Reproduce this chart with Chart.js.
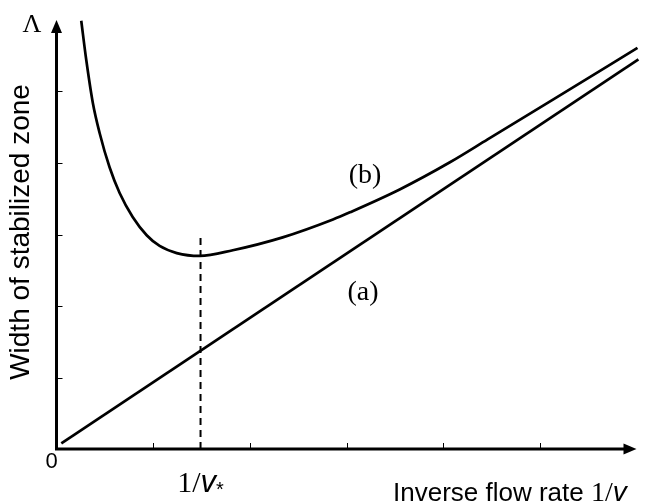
<!DOCTYPE html>
<html>
<head>
<meta charset="utf-8">
<script src="https://cdn.jsdelivr.net/npm/chart.js@4"></script>
<style>
  html, body { margin: 0; padding: 0; background: #fff; }
  #wrap { width: 648px; height: 502px; position: relative; }
</style>
</head>
<body>
<div id="wrap"><canvas id="chart"></canvas></div>
<script>
// 直线 (a)
const lineAX = [0.05, 6.02];
const lineAY = [0.08, 5.45];

// 曲线 (b)
const curveBX = [0.256, 0.308, 0.376, 0.446, 0.549, 0.653, 0.788, 0.933, 1.067, 1.244, 1.482, 1.824, 2.34, 2.86, 3.035, 3.55, 4.07, 4.46, 5.14, 6.01];
const curveBY = [5.99, 5.44, 4.84, 4.42, 3.94, 3.58, 3.245, 2.99, 2.84, 2.74, 2.70, 2.78, 2.96, 3.21, 3.31, 3.63, 4.01, 4.33, 4.89, 5.61];

// 1/v* 处的虚线
const vStarX = [1.49, 1.49];
const vStarY = [0, 2.98];

// 坐标轴刻度
const xTicks = [1, 2, 3, 4, 5];
const yTicks = [1, 2, 3, 4, 5];
const axisMax = 6;

const toPoints = (xs, ys) => xs.map((x, i) => ({ x: x, y: ys[i] }));

const SERIF = '"Liberation Serif", "Times New Roman", serif';
const SANS = '"Liberation Sans", Arial, sans-serif';

// 按顺序绘制不同字体的文字片段
function drawRuns(ctx, x, y, runs) {
  runs.forEach(r => {
    ctx.font = r.font;
    ctx.fillText(r.text, x, y + (r.dy || 0));
    x += ctx.measureText(r.text).width;
  });
}

function runsWidth(ctx, runs) {
  let w = 0;
  runs.forEach(r => { ctx.font = r.font; w += ctx.measureText(r.text).width; });
  return w;
}

// 坐标轴、箭头、刻度与文字
const axesPlugin = {
  id: 'axesPlugin',
  beforeDatasetsDraw(chart) {
    const ctx = chart.ctx;
    const xs = chart.scales.x;
    const ys = chart.scales.y;
    const x0 = xs.getPixelForValue(0);
    const y0 = ys.getPixelForValue(0);
    const xEnd = xs.getPixelForValue(axisMax);
    const yEnd = ys.getPixelForValue(axisMax);

    ctx.save();
    ctx.strokeStyle = '#000';
    ctx.fillStyle = '#000';
    ctx.lineWidth = 3;
    ctx.beginPath();
    ctx.moveTo(x0, y0);
    ctx.lineTo(x0, yEnd + 10);
    ctx.moveTo(x0 - 1.5, y0);
    ctx.lineTo(xEnd - 10, y0);
    ctx.stroke();

    // 箭头
    ctx.beginPath();
    ctx.moveTo(x0, yEnd);
    ctx.lineTo(x0 - 5.5, yEnd + 13);
    ctx.lineTo(x0 + 5.5, yEnd + 13);
    ctx.closePath();
    ctx.fill();
    ctx.beginPath();
    ctx.moveTo(xEnd, y0);
    ctx.lineTo(xEnd - 13, y0 - 5.5);
    ctx.lineTo(xEnd - 13, y0 + 5.5);
    ctx.closePath();
    ctx.fill();

    // 刻度
    ctx.lineWidth = 1;
    ctx.beginPath();
    xTicks.forEach(t => {
      const px = Math.round(xs.getPixelForValue(t)) + 0.5;
      ctx.moveTo(px, y0);
      ctx.lineTo(px, y0 - 6);
    });
    yTicks.forEach(t => {
      const py = Math.round(ys.getPixelForValue(t)) + 0.5;
      ctx.moveTo(x0, py);
      ctx.lineTo(x0 + 6, py);
    });
    ctx.stroke();
    ctx.restore();
  },
  afterDatasetsDraw(chart) {
    const ctx = chart.ctx;
    const xs = chart.scales.x;
    const ys = chart.scales.y;
    const x0 = xs.getPixelForValue(0);
    const y0 = ys.getPixelForValue(0);

    ctx.save();
    ctx.fillStyle = '#000';
    ctx.textBaseline = 'alphabetic';

    ctx.textAlign = 'center';
    ctx.font = '26px ' + SERIF;
    ctx.fillText('Λ', 32, 32);

    ctx.font = '22px ' + SANS;
    ctx.fillText('0', x0 - 5, y0 + 19);

    ctx.save();
    ctx.translate(21, 232);
    ctx.rotate(-Math.PI / 2);
    ctx.textBaseline = 'middle';
    ctx.font = '28px ' + SANS;
    ctx.fillText('Width of stabilized zone', 0, 0);
    ctx.restore();

    ctx.font = '28px ' + SERIF;
    ctx.textBaseline = 'middle';
    ctx.fillText('(b)', 365, 176);
    ctx.fillText('(a)', 363, 293);

    ctx.textAlign = 'left';
    ctx.textBaseline = 'alphabetic';
    const vRuns = [
      { text: '1/', font: '30px ' + SERIF },
      { text: 'v', font: 'italic 31px ' + SANS },
      { text: '*', font: '20px ' + SANS, dy: 4 }
    ];
    const vx = xs.getPixelForValue(vStarX[0]) - runsWidth(ctx, vRuns) / 2;
    drawRuns(ctx, vx, y0 + 43, vRuns);

    drawRuns(ctx, 393, 501, [
      { text: 'Inverse flow rate ', font: '26px ' + SANS },
      { text: '1/', font: '28px ' + SERIF },
      { text: 'v', font: 'italic 28px ' + SANS }
    ]);
    ctx.restore();
  }
};

new Chart(document.getElementById('chart'), {
  type: 'scatter',
  data: {
    datasets: [
      {
        label: '(a)',
        data: toPoints(lineAX, lineAY),
        showLine: true,
        borderColor: '#000',
        borderWidth: 2.7,
        pointRadius: 0,
        clip: false
      },
      {
        label: '(b)',
        data: toPoints(curveBX, curveBY),
        showLine: true,
        borderColor: '#000',
        borderWidth: 2.7,
        pointRadius: 0,
        cubicInterpolationMode: 'monotone',
        clip: false
      },
      {
        label: '1/v*',
        data: toPoints(vStarX, vStarY),
        showLine: true,
        borderColor: '#000',
        borderWidth: 2,
        borderDash: [7, 5],
        pointRadius: 0,
        clip: false
      }
    ]
  },
  options: {
    responsive: true,
    maintainAspectRatio: false,
    animation: false,
    layout: { padding: { left: 56.5, right: 11.5, top: 20, bottom: 53 } },
    plugins: {
      legend: { display: false },
      tooltip: { enabled: false }
    },
    scales: {
      x: { type: 'linear', min: 0, max: axisMax, display: false },
      y: { type: 'linear', min: 0, max: axisMax, display: false }
    }
  },
  plugins: [axesPlugin]
});
</script>
</body>
</html>
